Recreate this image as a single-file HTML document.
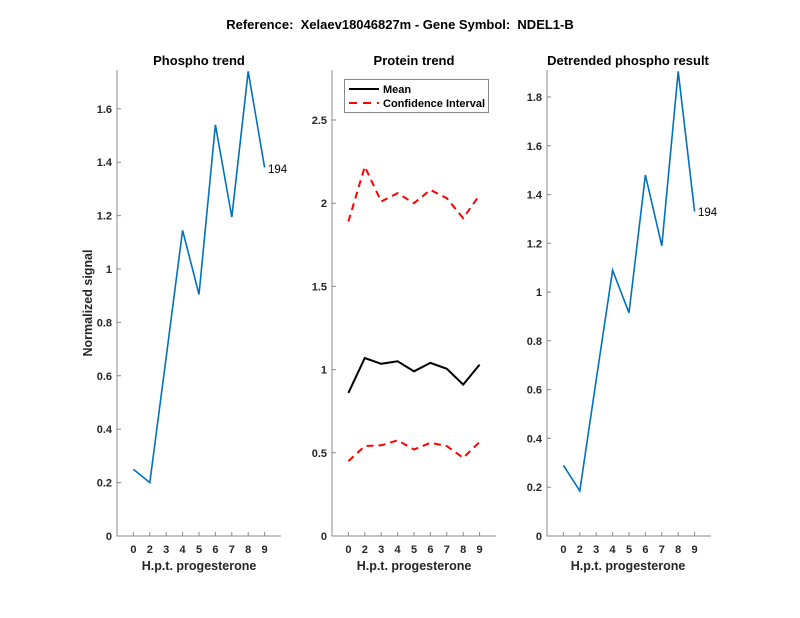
<!DOCTYPE html>
<html><head><meta charset="utf-8"><style>
html,body{margin:0;padding:0;background:#fff;}
svg{display:block;font-family:"Liberation Sans",Arial,sans-serif;}
.t{font-size:11px;fill:#262626;font-weight:bold;}
.ti{font-size:13px;font-weight:bold;fill:#000;}
.ax{stroke:#8a8a8a;stroke-width:1;fill:none;}
.lab{font-size:12.5px;font-weight:bold;fill:#262626;}
</style></head><body>
<svg width="800" height="618" viewBox="0 0 800 618">
<rect width="800" height="618" fill="#fff"/>
<text x="400" y="29" text-anchor="middle" class="ti">Reference:&#160; Xelaev18046827m - Gene Symbol:&#160; NDEL1-B</text>

<!-- Panel 1 -->
<text x="199" y="65" text-anchor="middle" class="ti">Phospho trend</text>
<path class="ax" d="M117 70 V536 H281"/>
<g class="ax">
<path d="M117 536h4M117 482.6h4M117 429.2h4M117 375.8h4M117 322.4h4M117 269h4M117 215.6h4M117 162.2h4M117 108.8h4"/>
<path d="M133.4 536v-4M149.8 536v-4M166.2 536v-4M182.6 536v-4M199 536v-4M215.4 536v-4M231.8 536v-4M248.2 536v-4M264.6 536v-4"/>
</g>
<g class="t" text-anchor="end">
<text x="112" y="540">0</text><text x="112" y="486.6">0.2</text><text x="112" y="433.2">0.4</text><text x="112" y="379.8">0.6</text><text x="112" y="326.4">0.8</text><text x="112" y="273">1</text><text x="112" y="219.6">1.2</text><text x="112" y="166.2">1.4</text><text x="112" y="112.8">1.6</text>
</g>
<g class="t" text-anchor="middle">
<text x="133.4" y="553">0</text><text x="149.8" y="553">2</text><text x="166.2" y="553">3</text><text x="182.6" y="553">4</text><text x="199" y="553">5</text><text x="215.4" y="553">6</text><text x="231.8" y="553">7</text><text x="248.2" y="553">8</text><text x="264.6" y="553">9</text>
</g>
<text x="199" y="570" text-anchor="middle" class="lab">H.p.t. progesterone</text>
<text transform="translate(92 303) rotate(-90)" text-anchor="middle" class="lab">Normalized signal</text>
<polyline fill="none" stroke="#0072BD" stroke-width="1.6" points="133.4,469.3 149.8,482.6 166.2,357.1 182.6,230.3 199,294.4 215.4,124.8 231.8,217 248.2,71.4 264.6,167.5"/>
<text x="268" y="173" font-size="11.5" fill="#000">194</text>

<!-- Panel 2 -->
<text x="414" y="65" text-anchor="middle" class="ti">Protein trend</text>
<path class="ax" d="M332 70 V536 H496"/>
<g class="ax">
<path d="M332 536h4M332 452.8h4M332 369.6h4M332 286.4h4M332 203.2h4M332 120h4"/>
<path d="M348.4 536v-4M364.8 536v-4M381.2 536v-4M397.6 536v-4M414 536v-4M430.4 536v-4M446.8 536v-4M463.2 536v-4M479.6 536v-4"/>
</g>
<g class="t" text-anchor="end">
<text x="327" y="540">0</text><text x="327" y="456.8">0.5</text><text x="327" y="373.6">1</text><text x="327" y="290.4">1.5</text><text x="327" y="207.2">2</text><text x="327" y="124">2.5</text>
</g>
<g class="t" text-anchor="middle">
<text x="348.4" y="553">0</text><text x="364.8" y="553">2</text><text x="381.2" y="553">3</text><text x="397.6" y="553">4</text><text x="414" y="553">5</text><text x="430.4" y="553">6</text><text x="446.8" y="553">7</text><text x="463.2" y="553">8</text><text x="479.6" y="553">9</text>
</g>
<text x="414" y="570" text-anchor="middle" class="lab">H.p.t. progesterone</text>
<polyline fill="none" stroke="#000" stroke-width="2" points="348.4,392.9 364.8,358 381.2,363.8 397.6,361.3 414,371.3 430.4,362.9 446.8,368.8 463.2,384.6 479.6,364.6"/>
<polyline fill="none" stroke="#ff0000" stroke-width="2" stroke-dasharray="7,5" points="348.4,221.5 364.8,166.6 381.2,201.5 397.6,193.2 414,203.2 430.4,189.9 446.8,198.2 463.2,218.2 479.6,194.9"/>
<polyline fill="none" stroke="#ff0000" stroke-width="2" stroke-dasharray="7,5" points="348.4,461.1 364.8,446.1 381.2,445.3 397.6,440.3 414,449.5 430.4,442.8 446.8,446.1 463.2,457.8 479.6,442"/>
<rect x="344.5" y="79.5" width="144" height="33" fill="#fff" stroke="#8a8a8a" stroke-width="1"/>
<line x1="349" y1="89" x2="379" y2="89" stroke="#000" stroke-width="2"/>
<line x1="349" y1="103" x2="379" y2="103" stroke="#ff0000" stroke-width="2" stroke-dasharray="8,6"/>
<text x="383" y="93" font-size="11" font-weight="bold" fill="#000">Mean</text>
<text x="383" y="107" font-size="11" font-weight="bold" fill="#000">Confidence Interval</text>

<!-- Panel 3 -->
<text x="628" y="65" text-anchor="middle" class="ti">Detrended phospho result</text>
<path class="ax" d="M547 70 V536 H711"/>
<g class="ax">
<path d="M547 536h4M547 487.2h4M547 438.4h4M547 389.6h4M547 340.8h4M547 292.1h4M547 243.3h4M547 194.6h4M547 145.8h4M547 97h4"/>
<path d="M563.4 536v-4M579.8 536v-4M596.2 536v-4M612.6 536v-4M629 536v-4M645.4 536v-4M661.8 536v-4M678.2 536v-4M694.6 536v-4"/>
</g>
<g class="t" text-anchor="end">
<text x="542" y="540">0</text><text x="542" y="491.2">0.2</text><text x="542" y="442.4">0.4</text><text x="542" y="393.6">0.6</text><text x="542" y="344.8">0.8</text><text x="542" y="296.1">1</text><text x="542" y="247.3">1.2</text><text x="542" y="198.6">1.4</text><text x="542" y="149.8">1.6</text><text x="542" y="101">1.8</text>
</g>
<g class="t" text-anchor="middle">
<text x="563.4" y="553">0</text><text x="579.8" y="553">2</text><text x="596.2" y="553">3</text><text x="612.6" y="553">4</text><text x="629" y="553">5</text><text x="645.4" y="553">6</text><text x="661.8" y="553">7</text><text x="678.2" y="553">8</text><text x="694.6" y="553">9</text>
</g>
<text x="628" y="570" text-anchor="middle" class="lab">H.p.t. progesterone</text>
<polyline fill="none" stroke="#0072BD" stroke-width="1.6" points="563.4,465.3 579.8,490.9 596.2,379.9 612.6,270.2 629,312.8 645.4,175 661.8,245.8 678.2,71.4 694.6,211.6"/>
<text x="698" y="216" font-size="11.5" fill="#000">194</text>
</svg>
</body></html>
